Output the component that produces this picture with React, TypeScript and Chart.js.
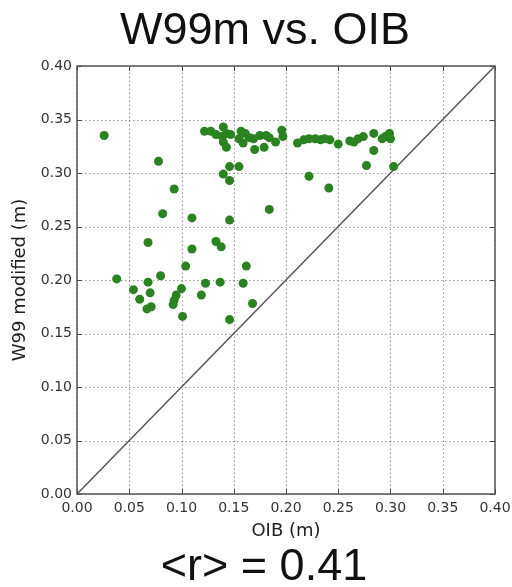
import React, { useEffect, useRef } from "react";
import { Chart, registerables } from "chart.js";

Chart.register(...registerables);

const titleText = "W99m vs. OIB";
const statText = "<r> = 0.41";
const xAxisLabel = "OIB (m)";
const yAxisLabel = "W99 modified (m)";

const oibValues = [
  0.026, 0.078, 0.093, 0.082, 0.110, 0.068, 0.110, 0.104, 0.038, 0.080,
  0.068, 0.123, 0.054, 0.070, 0.100, 0.119, 0.060, 0.095, 0.093, 0.092,
  0.071, 0.067, 0.101, 0.133, 0.138, 0.137, 0.146, 0.146, 0.159, 0.162,
  0.168, 0.184,
  0.146, 0.155, 0.140, 0.146, 0.222, 0.241, 0.277, 0.303, 0.284,
  0.122, 0.128, 0.133, 0.140, 0.143, 0.139, 0.140, 0.143, 0.147, 0.155,
  0.157, 0.161, 0.159, 0.165, 0.169, 0.170, 0.175, 0.179, 0.181, 0.184,
  0.190, 0.196, 0.197, 0.211, 0.217, 0.222, 0.228, 0.233, 0.237, 0.242,
  0.250, 0.261, 0.265, 0.269, 0.274, 0.284, 0.292, 0.295, 0.299, 0.300,
];

const w99Values = [
  0.335, 0.311, 0.285, 0.262, 0.258, 0.235, 0.229, 0.213, 0.201, 0.204,
  0.198, 0.197, 0.191, 0.188, 0.192, 0.186, 0.182, 0.186, 0.181, 0.177,
  0.175, 0.173, 0.166, 0.236, 0.231, 0.198, 0.256, 0.163, 0.197, 0.213,
  0.178, 0.266,
  0.306, 0.306, 0.299, 0.293, 0.297, 0.286, 0.307, 0.306, 0.321,
  0.339, 0.339, 0.336, 0.343, 0.337, 0.334, 0.329, 0.324, 0.336, 0.332,
  0.339, 0.337, 0.328, 0.333, 0.332, 0.322, 0.335, 0.324, 0.335, 0.333,
  0.329, 0.340, 0.334, 0.328, 0.331, 0.332, 0.332, 0.331, 0.332, 0.331,
  0.327, 0.330, 0.329, 0.332, 0.334, 0.337, 0.332, 0.334, 0.337, 0.332,
];

const oneToOneLine = [0, 0.4];
const axisMin = 0;
const axisMax = 0.4;
const axisStep = 0.05;

const tickFont = { family: '"DejaVu Sans", sans-serif', size: 14 };
const labelFont = { family: '"DejaVu Sans", sans-serif', size: 18 };

const gridPlugin = {
  id: "dottedGrid",
  beforeDatasetsDraw(chart: any) {
    const { ctx, chartArea: a, scales } = chart;
    ctx.save();
    ctx.strokeStyle = "rgba(0,0,0,0.4)";
    ctx.lineWidth = 1;
    ctx.setLineDash([1.5, 2.5]);
    scales.x.ticks.forEach((t: any) => {
      const px = Math.round(scales.x.getPixelForValue(t.value)) + 0.5;
      ctx.beginPath();
      ctx.moveTo(px, a.bottom);
      ctx.lineTo(px, a.top);
      ctx.stroke();
    });
    scales.y.ticks.forEach((t: any) => {
      const py = Math.round(scales.y.getPixelForValue(t.value)) + 0.5;
      ctx.beginPath();
      ctx.moveTo(a.left, py);
      ctx.lineTo(a.right, py);
      ctx.stroke();
    });
    ctx.restore();
  },
};

const framePlugin = {
  id: "frame",
  afterDraw(chart: any) {
    const { ctx, chartArea: a, scales } = chart;
    ctx.save();
    ctx.strokeStyle = "#444";
    ctx.lineWidth = 1;
    const tl = 5;
    scales.x.ticks.forEach((t: any) => {
      const px = Math.round(scales.x.getPixelForValue(t.value)) + 0.5;
      ctx.beginPath();
      ctx.moveTo(px, a.bottom);
      ctx.lineTo(px, a.bottom - tl);
      ctx.moveTo(px, a.top);
      ctx.lineTo(px, a.top + tl);
      ctx.stroke();
    });
    scales.y.ticks.forEach((t: any) => {
      const py = Math.round(scales.y.getPixelForValue(t.value)) + 0.5;
      ctx.beginPath();
      ctx.moveTo(a.left, py);
      ctx.lineTo(a.left + tl, py);
      ctx.moveTo(a.right, py);
      ctx.lineTo(a.right - tl, py);
      ctx.stroke();
    });
    ctx.strokeStyle = "#555";
    ctx.lineWidth = 1.5;
    ctx.strokeRect(a.left, a.top, a.right - a.left, a.bottom - a.top);

    ctx.fillStyle = "#111";
    ctx.font = '45px "Liberation Sans", Arial, sans-serif';
    ctx.textAlign = "center";
    ctx.textBaseline = "alphabetic";
    const cx = chart.width / 2 + 9;
    ctx.fillText(titleText, cx, 44);
    ctx.fillText(statText, cx - 1, 580);
    ctx.restore();
  },
};

export default function App() {
  const canvasRef = useRef<HTMLCanvasElement | null>(null);

  useEffect(() => {
    document.body.style.margin = "0";
    const canvas = canvasRef.current;
    if (!canvas) return;
    const points = oibValues.map((x, i) => ({ x, y: w99Values[i] }));
    const line = oneToOneLine.map((v) => ({ x: v, y: v }));

    const chart = new Chart(canvas, {
      type: "scatter",
      data: {
        datasets: [
          {
            type: "scatter",
            data: points,
            backgroundColor: "#2b8221",
            borderColor: "#2b8221",
            borderWidth: 0,
            pointRadius: 4.5,
            order: 1,
          },
          {
            type: "line",
            data: line,
            borderColor: "#555",
            borderWidth: 1.5,
            pointRadius: 0,
            fill: false,
            order: 2,
          } as any,
        ],
      },
      options: {
        responsive: false,
        animation: false,
        layout: { padding: { top: 66, right: 17, left: 0, bottom: 45 } },
        plugins: {
          legend: { display: false },
          tooltip: { enabled: false },
          title: { display: false },
        },
        scales: {
          x: {
            type: "linear",
            min: axisMin,
            max: axisMax,
            afterFit: (s: any) => {
              s.height = 48;
              s.paddingLeft = 0;
              s.paddingRight = 0;
            },
            ticks: {
              stepSize: axisStep,
              font: tickFont,
              color: "#333",
              padding: 6,
              maxRotation: 0,
              callback: (v: any) => Number(v).toFixed(2),
            },
            grid: { display: false, drawTicks: false },
            border: { display: false },
            title: {
              display: true,
              text: xAxisLabel,
              font: labelFont,
              color: "#222",
              padding: 0,
            },
          },
          y: {
            type: "linear",
            min: axisMin,
            max: axisMax,
            afterFit: (s: any) => {
              s.width = 77;
              s.paddingTop = 0;
              s.paddingBottom = 0;
            },
            ticks: {
              stepSize: axisStep,
              font: tickFont,
              color: "#333",
              padding: 5,
              callback: (v: any) => Number(v).toFixed(2),
            },
            grid: { display: false, drawTicks: false },
            border: { display: false },
            title: {
              display: true,
              text: yAxisLabel,
              font: labelFont,
              color: "#222",
              padding: { top: 10, bottom: 0 },
            },
          },
        },
      },
      plugins: [gridPlugin, framePlugin],
    });
    return () => chart.destroy();
  }, []);

  return <canvas ref={canvasRef} width={512} height={587} style={{ display: "block" }} />;
}
